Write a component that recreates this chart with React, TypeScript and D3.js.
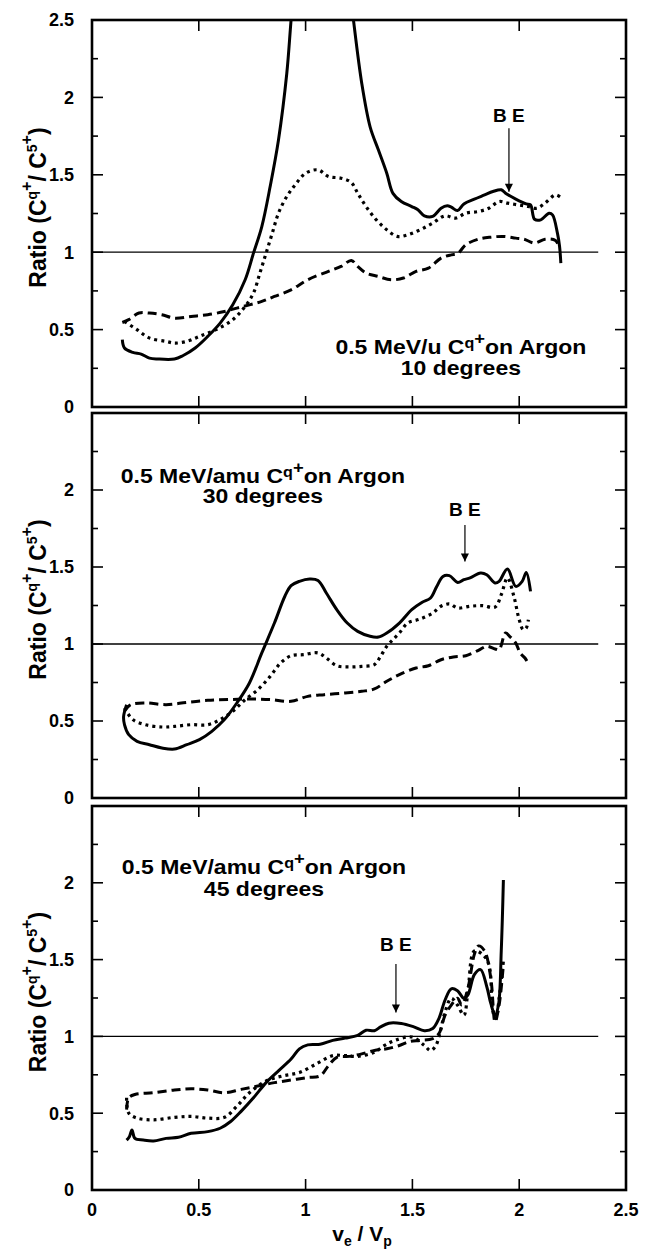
import React from 'react';
import * as d3 from 'd3';

// 10 degrees
const solid10: [number, number][] = [
  [0.142, 0.435], [0.152, 0.381], [0.191, 0.353], [0.23, 0.342], [0.269, 0.316], [0.308, 0.31],
  [0.386, 0.31], [0.425, 0.331], [0.483, 0.381], [0.542, 0.456], [0.6, 0.542], [0.659, 0.66],
  [0.717, 0.822], [0.756, 0.994], [0.795, 1.166], [0.834, 1.424], [0.873, 1.725], [0.912, 2.156],
  [0.935, 2.55], [0.98, 3.2], [1.06, 3.5], [1.16, 3.2], [1.215, 2.6], [1.263, 2.09], [1.302, 1.81],
  [1.341, 1.66], [1.38, 1.51], [1.409, 1.38], [1.448, 1.327], [1.497, 1.295], [1.526, 1.274],
  [1.556, 1.235], [1.595, 1.231], [1.634, 1.284], [1.663, 1.3], [1.682, 1.291], [1.711, 1.269],
  [1.741, 1.312], [1.79, 1.343], [1.838, 1.37], [1.877, 1.392], [1.916, 1.403], [1.936, 1.381],
  [1.984, 1.343], [2.033, 1.312], [2.053, 1.306], [2.072, 1.213], [2.101, 1.209], [2.14, 1.252],
  [2.156, 1.241], [2.179, 1.123], [2.189, 1.037], [2.195, 0.929],
];
const dotted10: [number, number][] = [
  [0.152, 0.553], [0.21, 0.5], [0.27, 0.445], [0.347, 0.424], [0.386, 0.413], [0.444, 0.424],
  [0.503, 0.456], [0.581, 0.5], [0.659, 0.564], [0.717, 0.65], [0.756, 0.736], [0.786, 0.865],
  [0.815, 0.994], [0.844, 1.123], [0.873, 1.252], [0.912, 1.36], [0.951, 1.435], [1.0, 1.51],
  [1.058, 1.532], [1.107, 1.489], [1.166, 1.478], [1.214, 1.45], [1.244, 1.381], [1.283, 1.295],
  [1.331, 1.209], [1.38, 1.145], [1.429, 1.102], [1.478, 1.112], [1.536, 1.145], [1.595, 1.188],
  [1.653, 1.235], [1.702, 1.22], [1.75, 1.252], [1.809, 1.263], [1.858, 1.284], [1.906, 1.327],
  [1.945, 1.317], [1.994, 1.306], [2.043, 1.295], [2.082, 1.284], [2.121, 1.317], [2.17, 1.37],
  [2.199, 1.349],
];
const dashed10: [number, number][] = [
  [0.142, 0.546], [0.172, 0.564], [0.22, 0.607], [0.269, 0.607], [0.327, 0.596], [0.386, 0.574],
  [0.464, 0.585], [0.542, 0.596], [0.62, 0.617], [0.678, 0.639], [0.737, 0.66], [0.795, 0.682],
  [0.854, 0.714], [0.932, 0.757], [1.01, 0.822], [1.107, 0.876], [1.166, 0.908], [1.214, 0.947],
  [1.244, 0.908], [1.283, 0.865], [1.341, 0.843], [1.4, 0.822], [1.458, 0.833], [1.517, 0.876],
  [1.575, 0.897], [1.634, 0.962], [1.682, 0.983], [1.711, 0.99], [1.75, 1.048], [1.809, 1.084],
  [1.867, 1.097], [1.926, 1.102], [1.984, 1.091], [2.023, 1.084], [2.072, 1.059], [2.121, 1.084],
  [2.17, 1.076], [2.189, 1.026],
];

// 30 degrees
const solid30: [number, number][] = [
  [0.162, 0.606], [0.148, 0.53], [0.152, 0.476], [0.172, 0.411], [0.211, 0.368], [0.269, 0.346],
  [0.327, 0.325], [0.386, 0.318], [0.444, 0.346], [0.503, 0.379], [0.561, 0.433], [0.62, 0.509],
  [0.678, 0.617], [0.737, 0.747], [0.795, 0.942], [0.854, 1.136], [0.903, 1.31], [0.932, 1.379],
  [0.971, 1.407], [1.019, 1.422], [1.058, 1.413], [1.097, 1.331], [1.146, 1.223], [1.195, 1.136],
  [1.244, 1.082], [1.302, 1.05], [1.341, 1.045], [1.38, 1.071], [1.439, 1.136], [1.497, 1.223],
  [1.546, 1.271], [1.585, 1.299], [1.614, 1.374], [1.643, 1.439], [1.673, 1.444], [1.712, 1.4],
  [1.741, 1.418], [1.77, 1.429], [1.819, 1.461], [1.848, 1.45], [1.887, 1.396], [1.906, 1.407],
  [1.945, 1.487], [1.984, 1.374], [2.014, 1.407], [2.033, 1.465], [2.053, 1.342],
];
const dotted30: [number, number][] = [
  [0.152, 0.584], [0.191, 0.509], [0.25, 0.476], [0.327, 0.461], [0.386, 0.465], [0.464, 0.476],
  [0.542, 0.476], [0.6, 0.509], [0.659, 0.563], [0.717, 0.639], [0.776, 0.703], [0.834, 0.79],
  [0.883, 0.877], [0.932, 0.924], [0.99, 0.931], [1.058, 0.942], [1.097, 0.909], [1.146, 0.859],
  [1.205, 0.851], [1.263, 0.855], [1.322, 0.866], [1.351, 0.92], [1.38, 0.985], [1.409, 1.028],
  [1.439, 1.071], [1.478, 1.136], [1.536, 1.162], [1.595, 1.201], [1.634, 1.245], [1.673, 1.26],
  [1.712, 1.234], [1.77, 1.245], [1.828, 1.249], [1.887, 1.24], [1.916, 1.32], [1.945, 1.429],
  [1.975, 1.31], [2.0, 1.158], [2.019, 1.093], [2.033, 1.104], [2.043, 1.158],
];
const dashed30: [number, number][] = [
  [0.152, 0.563], [0.181, 0.606], [0.25, 0.617], [0.347, 0.606], [0.444, 0.621], [0.542, 0.634],
  [0.639, 0.639], [0.737, 0.643], [0.834, 0.639], [0.932, 0.628], [1.01, 0.66], [1.088, 0.671],
  [1.185, 0.682], [1.263, 0.693], [1.322, 0.708], [1.38, 0.758], [1.439, 0.801], [1.517, 0.844],
  [1.575, 0.859], [1.634, 0.898], [1.692, 0.916], [1.75, 0.924], [1.809, 0.959], [1.848, 0.985],
  [1.887, 0.968], [1.906, 0.963], [1.936, 1.071], [1.955, 1.05], [1.984, 1.006], [2.004, 0.942],
  [2.027, 0.909], [2.043, 0.872],
];

// 45 degrees
const solid45: [number, number][] = [
  [0.162, 0.325], [0.175, 0.347], [0.187, 0.391], [0.201, 0.336], [0.24, 0.325], [0.288, 0.319],
  [0.347, 0.336], [0.405, 0.343], [0.464, 0.369], [0.542, 0.38], [0.6, 0.402], [0.649, 0.446],
  [0.698, 0.512], [0.756, 0.6], [0.815, 0.699], [0.873, 0.776], [0.932, 0.853], [0.971, 0.919],
  [1.01, 0.945], [1.068, 0.949], [1.127, 0.974], [1.185, 0.989], [1.244, 1.007], [1.283, 1.04],
  [1.322, 1.037], [1.351, 1.062], [1.39, 1.086], [1.448, 1.084], [1.507, 1.062], [1.556, 1.037],
  [1.595, 1.051], [1.624, 1.116], [1.653, 1.237], [1.682, 1.31], [1.711, 1.297], [1.741, 1.248],
  [1.76, 1.27], [1.79, 1.402], [1.819, 1.435], [1.848, 1.325], [1.867, 1.215], [1.887, 1.138],
  [1.903, 1.204], [1.916, 1.556], [1.926, 2.018],
];
const dotted45: [number, number][] = [
  [0.162, 0.6], [0.172, 0.501], [0.211, 0.468], [0.288, 0.457], [0.386, 0.473], [0.464, 0.479],
  [0.542, 0.468], [0.62, 0.473], [0.678, 0.545], [0.737, 0.633], [0.815, 0.71], [0.893, 0.743],
  [0.971, 0.765], [1.049, 0.82], [1.127, 0.875], [1.185, 0.875], [1.244, 0.87], [1.322, 0.897],
  [1.37, 0.941], [1.419, 0.974], [1.497, 0.996], [1.556, 0.941], [1.585, 0.908], [1.61, 0.941],
  [1.63, 1.029], [1.653, 1.16], [1.682, 1.248], [1.711, 1.204], [1.741, 1.138], [1.76, 1.292],
  [1.79, 1.556], [1.828, 1.534], [1.858, 1.468], [1.877, 1.16], [1.891, 1.116], [1.906, 1.248],
  [1.926, 1.49],
];
const dashed45: [number, number][] = [
  [0.162, 0.523], [0.172, 0.6], [0.201, 0.622], [0.288, 0.633], [0.386, 0.651], [0.464, 0.659],
  [0.542, 0.651], [0.62, 0.633], [0.698, 0.655], [0.776, 0.677], [0.854, 0.699], [0.932, 0.716],
  [1.01, 0.732], [1.068, 0.743], [1.107, 0.809], [1.146, 0.864], [1.205, 0.87], [1.263, 0.886],
  [1.322, 0.908], [1.38, 0.919], [1.439, 0.941], [1.487, 0.967], [1.536, 0.974], [1.595, 0.985],
  [1.624, 1.018], [1.653, 1.138], [1.682, 1.204], [1.711, 1.248], [1.731, 1.204], [1.76, 1.314],
  [1.79, 1.534], [1.809, 1.589], [1.838, 1.556], [1.867, 1.38], [1.887, 1.095], [1.906, 1.204],
  [1.926, 1.468],
];

const xTicks = [0, 0.5, 1, 1.5, 2, 2.5];
const yMajorTicks = [0.5, 1, 1.5, 2];
const yMinorTicks = [0.25, 0.75, 1.25, 1.75, 2.25];
const yLabelsTop = [0, 0.5, 1, 1.5, 2, 2.5];
const yLabelsOther = [0, 0.5, 1, 1.5, 2];
const beamLabels = ['0.5 MeV/u C', '0.5 MeV/amu C', '0.5 MeV/amu C'];
const angleLabels = ['10 degrees', '30 degrees', '45 degrees'];
// [x, baseline y of line 1, baseline y of line 2]
const labelPos = [[1.727, 0.342, 0.207], [0.8, 2.045, 1.916], [0.805, 2.057, 1.914]];
// [x, text y, arrow start y, arrow end y]
const bePos = [[1.952, 1.841, 1.8, 1.39], [1.746, 1.831, 1.773, 1.535], [1.423, 1.556, 1.471, 1.155]];

const FONT = '"Liberation Sans", Arial, Helvetica, sans-serif';

const panels = [
  { top: 20, bottom: 407, solid: solid10, dotted: dotted10, dashed: dashed10, yLabels: yLabelsTop },
  { top: 413, bottom: 798, solid: solid30, dotted: dotted30, dashed: dashed30, yLabels: yLabelsOther },
  { top: 806, bottom: 1190, solid: solid45, dotted: dotted45, dashed: dashed45, yLabels: yLabelsOther },
];

const x = d3.scaleLinear().domain([0, 2.5]).range([92, 626]);

const App = () => {
  return (
    <svg width={651} height={1250} style={{ position: 'absolute', left: 0, top: 0, background: '#fff' }}
      fontFamily={FONT} fontWeight="bold">
      <defs>
        {panels.map((p, i) => (
          <clipPath id={`clip${i}`} key={i}>
            <rect x={92} y={p.top} width={534} height={p.bottom - p.top} />
          </clipPath>
        ))}
        <marker id="arrow" viewBox="0 0 10 10" refX={10} refY={5} markerWidth={13} markerHeight={8}
          orient="auto" markerUnits="userSpaceOnUse">
          <path d="M0,0 L10,5 L0,10 z" fill="#000" />
        </marker>
      </defs>
      {panels.map((p, i) => {
        const y = d3.scaleLinear().domain([0, 2.5]).range([p.bottom, p.top]);
        const line = d3.line<[number, number]>()
          .x(d => x(d[0]))
          .y(d => y(d[1]))
          .curve(d3.curveCatmullRom.alpha(0.5));
        const mid = (p.top + p.bottom) / 2;
        const [lx, ly1, ly2] = labelPos[i];
        const [bx, by, ba, bb] = bePos[i];
        return (
          <g key={i}>
            {/* reference line at ratio 1 */}
            <line x1={x(0)} x2={x(2.37)} y1={y(1)} y2={y(1)} stroke="#000" strokeWidth={1.3} />
            <g clipPath={`url(#clip${i})`} fill="none" stroke="#000">
              <path d={line(p.dashed) ?? ''} strokeWidth={3} strokeDasharray="9,5" />
              <path d={line(p.dotted) ?? ''} strokeWidth={3.2} strokeDasharray="3,4" />
              <path d={line(p.solid) ?? ''} strokeWidth={3} strokeLinejoin="round" />
            </g>
            {/* frame and inward ticks */}
            <rect x={92} y={p.top} width={534} height={p.bottom - p.top} fill="none" stroke="#000" strokeWidth={2.6} />
            {yMajorTicks.map(t => (
              <g key={t}>
                <line x1={92} x2={103} y1={y(t)} y2={y(t)} stroke="#000" strokeWidth={1.6} />
                <line x1={626} x2={615} y1={y(t)} y2={y(t)} stroke="#000" strokeWidth={1.6} />
              </g>
            ))}
            {yMinorTicks.map(t => (
              <g key={t}>
                <line x1={92} x2={98} y1={y(t)} y2={y(t)} stroke="#000" strokeWidth={1.6} />
                <line x1={626} x2={620} y1={y(t)} y2={y(t)} stroke="#000" strokeWidth={1.6} />
              </g>
            ))}
            {xTicks.slice(1, -1).map(t => (
              <g key={t}>
                <line x1={x(t)} x2={x(t)} y1={p.bottom} y2={p.bottom - 11} stroke="#000" strokeWidth={1.6} />
                <line x1={x(t)} x2={x(t)} y1={p.top} y2={p.top + 11} stroke="#000" strokeWidth={1.6} />
              </g>
            ))}
            {p.yLabels.map(t => (
              <text key={t} x={74} y={y(t)} dy="0.36em" textAnchor="end" fontSize={18}>{t}</text>
            ))}
            <text transform={`translate(46,${mid - 6}) rotate(-90)`} textAnchor="middle" fontSize={23}>
              Ratio (C<tspan dy={-9} fontSize={14}>q</tspan><tspan dy={-5} fontSize={16}>+</tspan>
              <tspan dy={14}>/ C</tspan><tspan dy={-9} fontSize={14}>5</tspan><tspan dy={-5} fontSize={16}>+</tspan>
              <tspan dy={14}>)</tspan>
            </text>
            <g transform={`translate(${x(lx)},${y(ly1)}) scale(1.15,1)`}>
              <text textAnchor="middle" fontSize={20}>
                {beamLabels[i]}<tspan dy={-6} fontSize={14}>q</tspan><tspan dy={-4} fontSize={16}>+</tspan>
                <tspan dy={10}>on Argon</tspan>
              </text>
            </g>
            <g transform={`translate(${x(lx)},${y(ly2)}) scale(1.15,1)`}>
              <text textAnchor="middle" fontSize={20}>{angleLabels[i]}</text>
            </g>
            <text x={x(bx)} y={y(by)} textAnchor="middle" fontSize={19}>B E</text>
            <line x1={x(bx)} x2={x(bx)} y1={y(ba)} y2={y(bb)} stroke="#000" strokeWidth={1.2} markerEnd="url(#arrow)" />
          </g>
        );
      })}
      {xTicks.map(t => (
        <text key={t} x={x(t)} y={1216} textAnchor="middle" fontSize={18}>{t}</text>
      ))}
      <text x={362} y={1241} textAnchor="middle" fontSize={21}>
        v<tspan dy={5} fontSize={14}>e</tspan><tspan dy={-5}> / V</tspan><tspan dy={5} fontSize={14}>p</tspan>
      </text>
    </svg>
  );
};

export default App;
